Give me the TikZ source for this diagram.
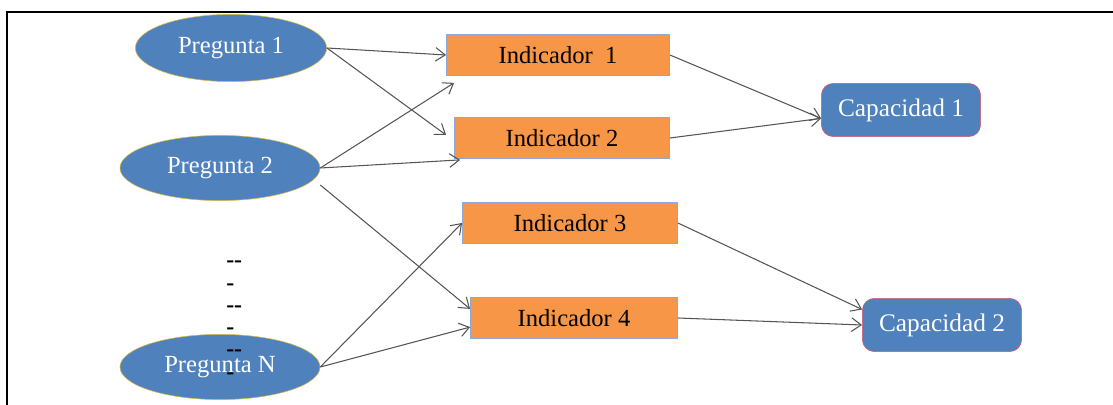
\documentclass[tikz,border=0pt]{standalone}
\usepackage{fontspec}
\setmainfont{Liberation Serif}
\usepackage{tikz}
\usepackage{xcolor}
\usetikzlibrary{shapes.geometric,arrows.meta}

\definecolor{azulnodo}{HTML}{4F81BD}
\definecolor{bordeoro}{HTML}{D9B84A}
\definecolor{naranja}{HTML}{F79646}
\definecolor{bordeazul}{HTML}{8EA9D6}
\definecolor{bordero}{HTML}{E05565}
\definecolor{gris}{HTML}{555555}

\tikzset{
	preg/.style={ellipse,draw=bordeoro,fill=azulnodo,text=white,inner sep=0pt,
		minimum width=5cm,minimum height=1.63cm,font=\fontsize{17.5}{20}\selectfont},
	indic/.style={rectangle,draw=bordeazul,fill=naranja,text=black,inner sep=0pt,
		minimum height=1.03cm,font=\fontsize{17.5}{20}\selectfont},
	capac/.style={rectangle,rounded corners=0.3cm,draw=bordero,fill=azulnodo,text=white,
		inner sep=0pt,minimum width=3.98cm,minimum height=1.33cm,font=\fontsize{18}{20}\selectfont},
	flecha/.style={draw=gris,line width=0.75pt,-{Straight Barb[length=2.4mm,width=3.4mm]}},
	guion/.style={inner sep=0pt,anchor=west,font=\fontsize{17}{20}\selectfont\bfseries}
}

\begin{document}
\begin{tikzpicture}[x=0.025cm,y=-0.025cm]
			\useasboundingbox (0,0) rectangle (1113,405);
			% marco
			\draw[line width=2pt] (7,406) -- (7,12) -- (1114,12);

			% preguntas
			\node[preg,minimum width=4.78cm,minimum height=1.68cm] (p1) at (231,48) {Pregunta 1};
			\node[preg] (p2) at (220,168) {Pregunta 2};
			\node[preg] (pn) at (220,367) {Pregunta N};

			% indicadores
			\node[indic,minimum width=5.58cm] (i1) at (558,55) {Indicador~~1};
			\node[indic,minimum width=5.38cm] (i2) at (562,138) {Indicador 2};
			\node[indic,minimum width=5.38cm] (i3) at (570,223) {Indicador 3};
			\node[indic,minimum width=5.18cm] (i4) at (574,318) {Indicador 4};

			% capacidades
			\node[capac] (c1) at (901,110) {Capacidad 1};
			\node[capac] (c2) at (942,325) {Capacidad 2};

			% guiones
			\node[guion] (g1) at (226,264) {-{}-};
			\node[guion] (g2) at (226,287) {-};
			\node[guion] (g3) at (226,309) {-{}-};
			\node[guion] (g4) at (226,331) {-};
			\node[guion] (g5) at (226,353) {-{}-};
			\node[guion] (g6) at (226,376) {-};

			% flechas
			\draw[flecha] (p1.east) -- (i1.west);
			\draw[flecha] (p1.east) -- ([shift={(-8,-3)}]i2.west);
			\draw[flecha] (p2.east) -- ([shift={(8,7)}]i1.south west);
			\draw[flecha] (p2.east) -- ([shift={(6,1)}]i2.south west);
			\draw[flecha] ([shift={(0,17)}]p2.east) -- (i4.175);
			\draw[flecha] (pn.east) -- (i3.west);
			\draw[flecha] (pn.east) -- (i4.185);
			\draw[flecha] (i1.east) -- (c1.186);
			\draw[flecha] (i2.east) -- (c1.186);
			\draw[flecha] (i3.east) -- (c2.169);
			\draw[flecha] (i4.east) -- (c2.west);
		\end{tikzpicture}
\end{document}
